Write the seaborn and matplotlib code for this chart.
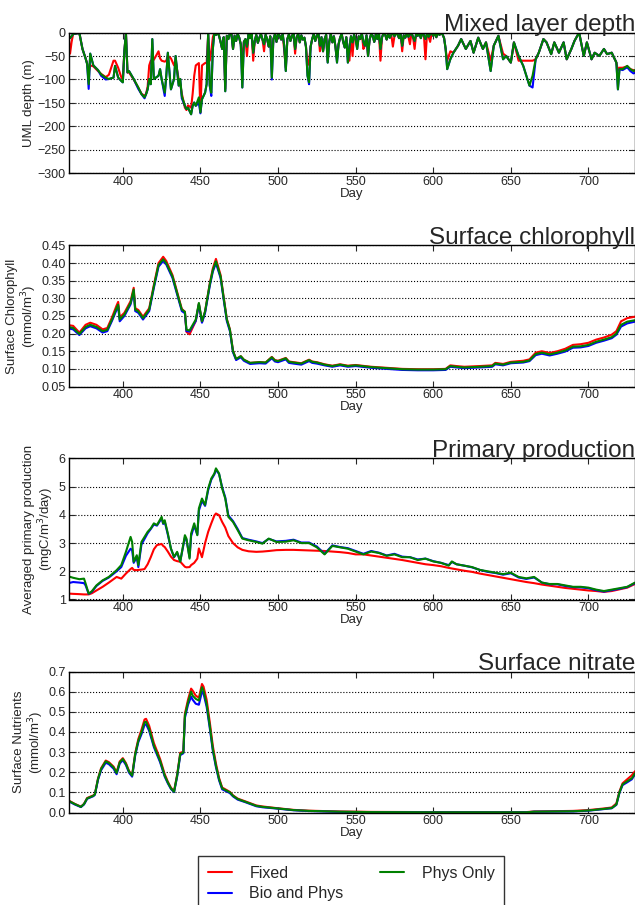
import numpy as np
import pandas as pd
import seaborn as sns
import matplotlib.pyplot as plt
from matplotlib.ticker import FuncFormatter, MultipleLocator

sns.set_style("ticks")
plt.rcParams['font.family'] = ['Liberation Sans', 'DejaVu Sans']
plt.rcParams['axes.unicode_minus'] = True

runs = ['Fixed', 'Bio and Phys', 'Phys Only']
colours = {'Fixed': '#ff0000', 'Bio and Phys': '#0000ff', 'Phys Only': '#008000'}

# mixed layer depth (m): irregular days, then daily from 455 to 608, then irregular again
mld_day = ([365, 366, 367, 368, 370, 372, 374, 376, 377, 378, 379, 381, 384, 386, 389, 391, 394, 395, 397, 399,
            400, 401, 402, 403, 404, 407, 410, 412, 414, 415, 416, 417, 418, 419, 420, 423, 424, 425, 427, 428,
            429, 431, 433, 434, 436, 437, 438, 440, 441, 442, 444, 445, 446, 447, 449, 450, 451, 453, 454]
           + list(range(455, 609))
           + [609, 611, 613, 616, 618, 621, 624, 626, 629, 632, 634, 637, 639, 642, 645, 647, 650, 652, 655, 658,
              660, 662, 664, 666, 668, 671, 673, 676, 678, 681, 684, 686, 689, 691, 694, 697, 699, 702, 704, 707,
              710, 712, 715, 718, 719, 720, 722, 725, 727, 729, 730])
mld_phys = [-5, -12, -8, -3, -2, -1, -35, -55, -67, -110, -45, -70, -80, -89, -96, -99, -96, -71, -96, -103,
            -106, -40, 0, -85, -82, -99, -117, -131, -138, -131, -121, -99, -110, -14, -99, -92, -78, -99, -128, -92,
            -43, -121, -99, -50, -113, -99, -135, -156, -163, -160, -174, -156, -149, -156, -138, -170, -142, -128, -110,
            # 455-608
            0, -113, -128, -35, 0, -5, 0, -7, -20, -35,
            -10, -125, -7, -14, -2, -4, -35, -7, -18, -3,
            -11, -25, -117, -20, -14, -30, -4, -12, -2, -43,
            -18, -5, -22, -11, -3, -15, -25, -5, -14, -30,
            -8, -96, -14, -4, -20, -2, -7, -15, -3, -28,
            -82, -14, -4, -18, -7, -2, -35, -10, -3, -21,
            -6, -15, -11, -30, -92, -106, -30, -14, -3, -18,
            -7, -2, -28, -10, -40, -14, -5, -64, -20, -3,
            -21, -8, -30, -64, -25, -11, -3, -20, -32, -10,
            -64, -30, -8, -21, -5, -15, -35, -8, -14, -2,
            -20, -28, -6, -50, -15, -3, -7, -20, -4, -14,
            -1, -35, -10, -2, -4, -15, -3, -11, -5, 0,
            -8, -2, -4, -12, -3, -28, -6, -11, -2, -9,
            -4, -1, -10, -18, -3, -7, -1, -12, 0, -6,
            -14, -2, -9, -4, -1, -7, -2, -10, 0, -5,
            -2, -4, -12, -35,
            # 609-730
            -78, -57, -43, -28, -14, -35, -18, -43, -11, -35, -21, -82, -28, -7, -57, -50, -64, -21, -50, -71,
            -92, -113, -92, -57, -43, -14, -21, -46, -21, -43, -21, -57, -35, -18, 0, -50, -21, -57, -43, -50,
            -35, -46, -43, -64, -121, -78, -78, -71, -78, -82, -80]
mld_bio = [-5, -12, -8, -3, -2, -1, -35, -55, -67, -120, -45, -70, -80, -92, -100, -99, -96, -71, -96, -103,
           -106, -40, 0, -85, -82, -99, -120, -131, -140, -131, -121, -99, -110, -14, -99, -92, -78, -99, -135, -92,
           -43, -121, -99, -50, -113, -99, -140, -156, -163, -160, -174, -156, -149, -156, -150, -172, -142, -128, -110,
           # 455-608
           0, -113, -135, -35, 0, -5, 0, -7, -20, -35,
           -10, -125, -7, -14, -2, -4, -35, -7, -18, -3,
           -11, -25, -117, -20, -14, -30, -4, -12, -2, -43,
           -18, -5, -22, -11, -3, -15, -25, -5, -14, -30,
           -8, -100, -14, -4, -20, -2, -7, -15, -3, -28,
           -82, -14, -4, -18, -7, -2, -35, -10, -3, -21,
           -6, -15, -11, -30, -92, -110, -30, -14, -3, -18,
           -7, -2, -28, -10, -40, -14, -5, -64, -20, -3,
           -21, -8, -30, -64, -25, -11, -3, -20, -32, -10,
           -64, -30, -8, -21, -5, -15, -35, -8, -14, -2,
           -20, -28, -6, -50, -15, -3, -7, -20, -4, -14,
           -1, -35, -10, -2, -4, -15, -3, -11, -5, 0,
           -8, -2, -4, -12, -3, -28, -6, -11, -2, -9,
           -4, -1, -10, -18, -3, -7, -1, -12, 0, -6,
           -14, -2, -9, -4, -1, -7, -2, -10, 0, -5,
           -2, -4, -12, -35,
           # 609-730
           -78, -57, -43, -28, -14, -35, -18, -43, -11, -35, -21, -82, -28, -7, -57, -50, -64, -21, -50, -71,
           -92, -113, -117, -57, -43, -14, -21, -46, -21, -43, -21, -57, -35, -18, 0, -50, -21, -57, -43, -50,
           -35, -46, -43, -64, -121, -78, -80, -74, -82, -87, -86]
mld_fixed = [-5, -45, -20, -3, -2, -1, -35, -55, -65, -85, -70, -72, -82, -88, -95, -90, -60, -60, -75, -95,
             -100, -40, 0, -85, -85, -100, -118, -130, -135, -130, -115, -70, -60, -60, -58, -40, -55, -60, -62, -60,
             -50, -55, -70, -60, -100, -110, -130, -160, -165, -155, -160, -130, -92, -70, -65, -170, -70, -65, -65,
             # 455-608
             -5, -60, -40, -10, 0, -5, 0, -7, -20, -35,
             -10, -120, -7, -14, -2, -4, -35, -7, -18, -3,
             -11, -25, -60, -20, -14, -50, -4, -12, -2, -60,
             -18, -5, -22, -11, -3, -15, -40, -5, -14, -30,
             -8, -60, -14, -4, -20, -2, -7, -15, -3, -40,
             -75, -14, -4, -18, -7, -2, -45, -10, -3, -21,
             -6, -15, -11, -30, -70, -60, -30, -14, -3, -18,
             -7, -2, -40, -10, -40, -14, -5, -60, -20, -3,
             -21, -8, -30, -55, -25, -11, -3, -20, -32, -10,
             -40, -60, -8, -50, -5, -15, -20, -8, -14, -2,
             -35, -28, -6, -50, -15, -3, -7, -20, -4, -14,
             -1, -60, -10, -2, -4, -15, -3, -11, -5, -30,
             -8, -2, -4, -12, -3, -40, -6, -11, -2, -9,
             -25, -1, -10, -35, -3, -7, -1, -12, 0, -6,
             -57, -2, -9, -20, -1, -7, -2, -10, 0, -5,
             -2, -4, -12, -35,
             # 609-730
             -60, -40, -43, -28, -14, -35, -18, -43, -11, -35, -21, -60, -28, -7, -45, -50, -64, -21, -60, -60,
             -60, -60, -60, -57, -43, -14, -21, -46, -21, -43, -21, -57, -35, -18, 0, -50, -21, -57, -43, -50,
             -35, -46, -43, -64, -80, -75, -75, -72, -78, -80, -82]

# surface chlorophyll (mmol/m3)
chl_day = [365, 368, 372, 376, 379, 383, 387, 390, 393, 396, 397, 398, 401, 405, 407, 408, 410, 413, 417, 420,
           423, 426, 428, 432, 435, 438, 440, 441, 443, 447, 449, 451, 453, 456, 458, 460, 463, 465, 467, 469,
           471, 473, 476, 478, 482, 488, 492, 496, 498, 500, 505, 507, 510, 515, 520, 522, 525, 530, 535, 540,
           545, 550, 560, 570, 580, 590, 600, 608, 611, 615, 620, 630, 638, 640, 645, 650, 658, 662, 666, 670,
           675, 680, 685, 690, 695, 700, 705, 710, 715, 718, 721, 725, 730]
chl_phys = [0.219, 0.216, 0.199, 0.219, 0.225, 0.219, 0.207, 0.211, 0.240, 0.273, 0.282, 0.240, 0.254, 0.287, 0.325,
            0.268, 0.263, 0.244, 0.268, 0.334, 0.395, 0.411, 0.400, 0.362, 0.315, 0.268, 0.262, 0.211, 0.209, 0.240,
            0.287, 0.235, 0.263, 0.339, 0.380, 0.405, 0.362, 0.300, 0.240, 0.211, 0.150, 0.128, 0.136, 0.126, 0.117,
            0.119, 0.118, 0.133, 0.124, 0.122, 0.130, 0.120, 0.118, 0.115, 0.125, 0.120, 0.118, 0.112, 0.108, 0.112,
            0.108, 0.110, 0.105, 0.102, 0.099, 0.098, 0.098, 0.099, 0.108, 0.106, 0.104, 0.106, 0.108, 0.115, 0.112,
            0.118, 0.120, 0.124, 0.142, 0.146, 0.141, 0.146, 0.152, 0.163, 0.164, 0.168, 0.177, 0.183, 0.190, 0.200,
            0.225, 0.234, 0.238]
chl_bio = [0.215, 0.212, 0.196, 0.215, 0.221, 0.215, 0.203, 0.207, 0.236, 0.268, 0.278, 0.235, 0.250, 0.283, 0.320,
           0.264, 0.259, 0.240, 0.264, 0.330, 0.390, 0.406, 0.396, 0.358, 0.311, 0.264, 0.258, 0.207, 0.206, 0.236,
           0.283, 0.231, 0.259, 0.335, 0.376, 0.400, 0.358, 0.296, 0.236, 0.207, 0.147, 0.125, 0.133, 0.123, 0.114,
           0.116, 0.115, 0.130, 0.121, 0.119, 0.127, 0.117, 0.115, 0.112, 0.122, 0.117, 0.115, 0.110, 0.106, 0.110,
           0.106, 0.108, 0.103, 0.100, 0.097, 0.096, 0.096, 0.097, 0.106, 0.104, 0.102, 0.104, 0.106, 0.113, 0.110,
           0.116, 0.118, 0.122, 0.139, 0.143, 0.138, 0.143, 0.149, 0.160, 0.161, 0.165, 0.174, 0.180, 0.187, 0.197,
           0.220, 0.229, 0.234]
chl_fixed = [0.224, 0.222, 0.203, 0.225, 0.231, 0.225, 0.212, 0.216, 0.246, 0.280, 0.290, 0.246, 0.259, 0.292, 0.330,
             0.272, 0.267, 0.248, 0.272, 0.338, 0.400, 0.418, 0.406, 0.366, 0.318, 0.270, 0.262, 0.205, 0.198, 0.236,
             0.285, 0.233, 0.263, 0.342, 0.385, 0.412, 0.366, 0.303, 0.242, 0.212, 0.151, 0.127, 0.136, 0.126, 0.117,
             0.119, 0.118, 0.134, 0.125, 0.123, 0.131, 0.121, 0.119, 0.116, 0.126, 0.121, 0.119, 0.113, 0.109, 0.113,
             0.109, 0.111, 0.106, 0.103, 0.100, 0.099, 0.099, 0.100, 0.110, 0.108, 0.106, 0.108, 0.110, 0.117, 0.114,
             0.120, 0.123, 0.127, 0.146, 0.150, 0.145, 0.150, 0.157, 0.168, 0.170, 0.174, 0.183, 0.189, 0.197, 0.207,
             0.235, 0.244, 0.248]

# primary production (mgC/m3/day)
pp_day = [365, 368, 372, 375, 376, 378, 380, 383, 387, 391, 396, 399, 402, 405, 406, 407, 409, 410, 412, 414,
          416, 418, 420, 422, 425, 426, 427, 429, 431, 433, 435, 437, 440, 441, 443, 444, 446, 448, 449, 451,
          453, 455, 457, 459, 460, 462, 464, 466, 468, 471, 474, 477, 481, 486, 490, 494, 499, 505, 510, 515,
          520, 525, 530, 535, 540, 545, 550, 555, 560, 565, 570, 575, 580, 585, 590, 595, 600, 605, 610, 612,
          615, 620, 625, 630, 635, 640, 645, 650, 655, 660, 665, 670, 675, 680, 685, 690, 695, 700, 705, 710,
          715, 720, 725, 730]
pp_phys = [1.82, 1.77, 1.72, 1.74, 1.57, 1.21, 1.29, 1.50, 1.68, 1.80, 2.04, 2.22, 2.69, 3.22, 3.04, 2.34, 2.57, 2.22, 3.04, 3.22,
           3.40, 3.52, 3.70, 3.64, 3.93, 3.70, 3.81, 3.34, 2.81, 2.51, 2.69, 2.34, 3.28, 3.16, 2.45, 3.34, 3.70, 3.28, 4.23, 4.58,
           4.35, 4.94, 5.29, 5.47, 5.65, 5.47, 4.94, 4.58, 3.93, 3.75, 3.46, 3.16, 3.10, 3.04, 2.98, 3.16, 3.04, 3.05, 3.10, 3.00,
           3.00, 2.85, 2.60, 2.90, 2.85, 2.80, 2.70, 2.60, 2.70, 2.65, 2.55, 2.60, 2.50, 2.50, 2.40, 2.45, 2.35, 2.30, 2.20, 2.35,
           2.25, 2.20, 2.15, 2.05, 2.00, 1.95, 1.90, 1.95, 1.80, 1.75, 1.80, 1.60, 1.55, 1.55, 1.50, 1.45, 1.45, 1.42, 1.35, 1.30,
           1.35, 1.40, 1.45, 1.60]
pp_bio = [1.58, 1.62, 1.60, 1.58, 1.50, 1.20, 1.27, 1.48, 1.66, 1.78, 2.00, 2.15, 2.55, 2.80, 2.75, 2.30, 2.50, 2.15, 2.95, 3.15,
          3.35, 3.50, 3.66, 3.62, 3.88, 3.68, 3.76, 3.30, 2.80, 2.50, 2.66, 2.36, 3.20, 3.12, 2.50, 3.25, 3.62, 3.30, 4.15, 4.50,
          4.32, 4.88, 5.25, 5.44, 5.60, 5.45, 4.98, 4.62, 3.98, 3.78, 3.50, 3.18, 3.12, 3.06, 3.00, 3.15, 3.06, 3.08, 3.12, 3.02,
          3.02, 2.88, 2.62, 2.92, 2.86, 2.82, 2.72, 2.62, 2.72, 2.66, 2.56, 2.62, 2.52, 2.50, 2.42, 2.45, 2.36, 2.30, 2.22, 2.33,
          2.25, 2.20, 2.14, 2.05, 1.98, 1.94, 1.88, 1.93, 1.78, 1.73, 1.78, 1.60, 1.54, 1.54, 1.48, 1.44, 1.43, 1.40, 1.33, 1.28,
          1.33, 1.38, 1.44, 1.58]
pp_fixed = [1.21, 1.20, 1.19, 1.18, 1.18, 1.18, 1.22, 1.32, 1.45, 1.60, 1.80, 1.74, 1.92, 2.08, 2.12, 2.05, 2.04, 2.05, 2.06, 2.08,
            2.25, 2.50, 2.78, 2.93, 2.97, 2.90, 2.86, 2.70, 2.52, 2.40, 2.36, 2.34, 2.16, 2.14, 2.15, 2.22, 2.30, 2.45, 2.81, 2.50,
            3.00, 3.40, 3.70, 3.98, 4.05, 3.99, 3.75, 3.55, 3.25, 3.00, 2.85, 2.76, 2.71, 2.69, 2.70, 2.72, 2.75, 2.76, 2.76, 2.75,
            2.74, 2.73, 2.72, 2.70, 2.68, 2.65, 2.60, 2.60, 2.56, 2.52, 2.48, 2.44, 2.40, 2.35, 2.30, 2.25, 2.22, 2.18, 2.12, 2.10,
            2.07, 2.02, 1.98, 1.92, 1.87, 1.82, 1.77, 1.72, 1.67, 1.62, 1.58, 1.53, 1.49, 1.45, 1.41, 1.38, 1.35, 1.32, 1.30, 1.27,
            1.30, 1.36, 1.42, 1.55]

# surface nitrate (mmol/m3)
no3_day = [365, 369, 373, 375, 377, 381, 382, 384, 386, 389, 391, 394, 396, 398, 400, 402, 404, 406, 408, 410,
           412, 414, 415, 417, 420, 424, 427, 429, 431, 433, 435, 437, 439, 440, 442, 444, 445, 447, 449, 451,
           452, 454, 456, 458, 460, 462, 464, 467, 469, 471, 474, 479, 486, 490, 500, 510, 520, 540, 560, 600,
           660, 665, 690, 700, 710, 715, 718, 720, 722, 725, 728, 730]
no3_phys = [0.058, 0.042, 0.028, 0.042, 0.070, 0.083, 0.090, 0.166, 0.216, 0.254, 0.246, 0.224, 0.196, 0.249, 0.266,
            0.241, 0.203, 0.183, 0.290, 0.357, 0.398, 0.448, 0.450, 0.415, 0.332, 0.257, 0.183, 0.149, 0.120, 0.103,
            0.183, 0.290, 0.298, 0.481, 0.547, 0.600, 0.580, 0.564, 0.556, 0.622, 0.605, 0.539, 0.431, 0.315, 0.232,
            0.166, 0.120, 0.108, 0.100, 0.083, 0.067, 0.053, 0.033, 0.028, 0.020, 0.012, 0.008, 0.004, 0.002, 0.001,
            0.001, 0.004, 0.006, 0.010, 0.018, 0.022, 0.040, 0.100, 0.140, 0.155, 0.170, 0.195]
no3_bio = [0.056, 0.040, 0.027, 0.040, 0.068, 0.081, 0.088, 0.162, 0.210, 0.247, 0.240, 0.218, 0.190, 0.243, 0.260,
           0.236, 0.198, 0.178, 0.284, 0.350, 0.388, 0.435, 0.438, 0.405, 0.325, 0.250, 0.178, 0.145, 0.117, 0.101,
           0.178, 0.285, 0.294, 0.470, 0.535, 0.575, 0.560, 0.540, 0.535, 0.600, 0.590, 0.525, 0.420, 0.306, 0.225,
           0.160, 0.115, 0.104, 0.096, 0.080, 0.064, 0.051, 0.031, 0.026, 0.019, 0.011, 0.007, 0.003, 0.002, 0.001,
           0.001, 0.004, 0.005, 0.009, 0.017, 0.021, 0.038, 0.098, 0.136, 0.150, 0.165, 0.190]
no3_fixed = [0.060, 0.043, 0.029, 0.043, 0.072, 0.085, 0.092, 0.168, 0.220, 0.258, 0.250, 0.228, 0.200, 0.253, 0.270,
             0.245, 0.206, 0.186, 0.295, 0.365, 0.410, 0.462, 0.465, 0.430, 0.345, 0.266, 0.190, 0.153, 0.123, 0.106,
             0.188, 0.296, 0.302, 0.490, 0.560, 0.615, 0.605, 0.580, 0.570, 0.638, 0.625, 0.560, 0.450, 0.330, 0.243,
             0.172, 0.124, 0.111, 0.102, 0.085, 0.069, 0.055, 0.035, 0.030, 0.021, 0.013, 0.009, 0.005, 0.003, 0.002,
             0.002, 0.005, 0.008, 0.012, 0.020, 0.025, 0.045, 0.105, 0.145, 0.165, 0.185, 0.205]


def long_frame(day, fixed, bio, phys):
    parts = []
    for name, vals in zip(runs, [fixed, bio, phys]):
        parts.append(pd.DataFrame({'Day': day, 'value': vals, 'run': name}))
    return pd.concat(parts, ignore_index=True)


def tick_fmt(fmt):
    # printf-style label, but with a real minus sign like the original
    return FuncFormatter(lambda v, pos: (fmt % v).replace('-', '\u2212'))


panels = [
    ('Mixed layer depth', 'UML depth (m)', long_frame(mld_day, mld_fixed, mld_bio, mld_phys),
     (-300, 0), 50, '%d'),
    ('Surface chlorophyll', 'Surface Chlorophyll\n(mmol/m$^3$)', long_frame(chl_day, chl_fixed, chl_bio, chl_phys),
     (0.05, 0.45), 0.05, '%.2f'),
    ('Primary production', 'Averaged primary production\n(mgC/m$^3$/day)', long_frame(pp_day, pp_fixed, pp_bio, pp_phys),
     (1, 6), 1, '%d'),
    ('Surface nitrate', 'Surface Nutrients\n(mmol/m$^3$)', long_frame(no3_day, no3_fixed, no3_bio, no3_phys),
     (0.0, 0.7), 0.1, '%.1f'),
]

W, H = 635, 905
fig = plt.figure(figsize=(W / 100, H / 100), dpi=100)
tops = [32.5, 245.5, 458.5, 671.5]
left_px, ax_h = 68.5, 141

for top, (title, ylab, df, ylim, step, fmt) in zip(tops, panels):
    ax = fig.add_axes([left_px / W, 1 - (top + ax_h) / H, (W - left_px) / W, ax_h / H])
    sns.lineplot(data=df, x='Day', y='value', hue='run', hue_order=runs, palette=colours,
                 estimator=None, lw=1.5, ax=ax, legend=True)
    handles, labels = ax.get_legend_handles_labels()
    ax.get_legend().remove()
    ax.set_xlim(365, 730)
    ax.set_ylim(*ylim)
    ax.yaxis.set_major_locator(MultipleLocator(step))
    ax.yaxis.set_major_formatter(tick_fmt(fmt))
    ax.xaxis.set_major_locator(MultipleLocator(50))
    ax.tick_params(direction='in', top=True, right=True, length=4, width=0.8, pad=2, labelsize=9)
    ax.yaxis.grid(True, linestyle=':', color='black', lw=0.8)
    ax.xaxis.grid(False)
    for s in ax.spines.values():
        s.set_color('black')
        s.set_linewidth(1)
    ax.set_title(title, loc='right', fontsize=17.5, pad=1)
    ax.set_xlabel('Day', fontsize=9.5, labelpad=0)
    ax.set_ylabel(ylab, fontsize=9.5, labelpad=2, linespacing=1.1)

leg = fig.legend(handles, labels, ncol=2, loc='upper left', bbox_to_anchor=(198.3 / W, 1 - 856 / H),
                 borderaxespad=0, frameon=True, fancybox=False, edgecolor='black', fontsize=11.5,
                 handlelength=1.5, handletextpad=1.1, columnspacing=2.3, borderpad=0.6, labelspacing=0.35)
leg.get_frame().set_linewidth(1)

fig.savefig('out.png', dpi=100)
